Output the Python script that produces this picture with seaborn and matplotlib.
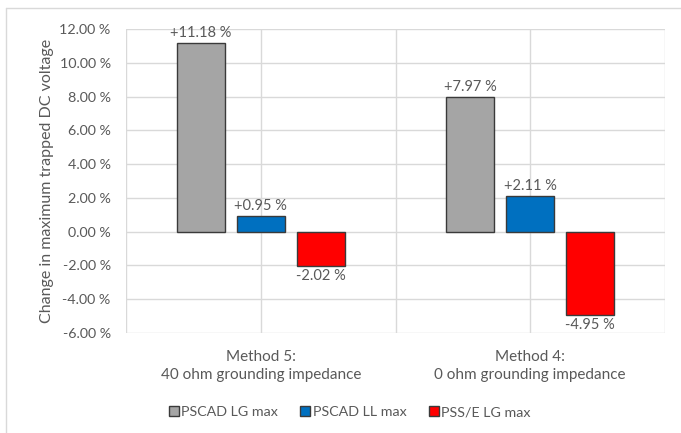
import matplotlib
matplotlib.use("Agg")
import matplotlib.pyplot as plt
from matplotlib.lines import Line2D
import seaborn as sns
import pandas as pd

# Chart data
methods = ["Method 5:\n40 ohm grounding impedance", "Method 4:\n0 ohm grounding impedance"]
series = ["PSCAD LG max", "PSCAD LL max", "PSS/E LG max"]
pscad_lg = [11.18, 7.97]
pscad_ll = [0.95, 2.11]
psse_lg = [-2.02, -4.95]
y_ticks = [-6, -4, -2, 0, 2, 4, 6, 8, 10, 12]

colors = ["#A5A5A5", "#0070C0", "#FF0000"]
edge = "#3A3A3A"
text_col = "#595959"
grid_col = "#D9D9D9"

df = pd.DataFrame({
    "method": methods * 3,
    "series": [s for s in series for _ in methods],
    "value": pscad_lg + pscad_ll + psse_lg,
})

sns.set_style("white")
plt.rcParams["font.family"] = ["Lato", "DejaVu Sans"]

fig = plt.figure(figsize=(6.81, 4.33), dpi=100)
ax = fig.add_axes([126 / 681, 1 - 333 / 433, (665 - 126) / 681, (333 - 29) / 433])

sns.barplot(data=df, x="method", y="value", hue="series", order=methods,
            hue_order=series, palette=colors, saturation=1, width=0.667, gap=0.2,
            edgecolor=edge, linewidth=1.0, legend=False, ax=ax, zorder=3)

# Value labels on each bar
for container in ax.containers:
    vals = container.datavalues
    ax.bar_label(container, labels=[f"{v:+.2f} %" for v in vals], padding=2,
                 color=text_col, fontsize=10.5)

ax.set_xlim(-0.5, 1.5)
ax.set_ylim(-6, 12)
ax.set_yticks(y_ticks)
ax.set_yticklabels([f"{t:.2f} %" for t in y_ticks])
ax.set_xticks([-0.5, 0.5, 1.5], minor=True)
ax.grid(True, axis="both", which="both", color=grid_col, linewidth=1.0, zorder=0)
ax.set_axisbelow(True)
for s in ax.spines.values():
    s.set_visible(False)
ax.tick_params(axis="both", which="both", length=0, colors=text_col)
ax.tick_params(axis="y", pad=11, labelsize=10.3)
ax.tick_params(axis="x", pad=12, labelsize=11)
for lbl in ax.get_xticklabels():
    lbl.set_linespacing(1.35)
ax.set_xlabel("")
ax.set_ylabel("Change in maximum trapped DC voltage", color=text_col, fontsize=11.5, labelpad=4)

# Legend below the plot
handles = [Line2D([], [], marker="s", linestyle="none", markersize=7.5,
                  markerfacecolor=c, markeredgecolor=edge, markeredgewidth=1.0)
           for c in colors]
fig.legend(handles, series, loc="center", bbox_to_anchor=(0.512, 1 - 412 / 433),
           ncol=3, frameon=False, fontsize=10.3, labelcolor=text_col,
           handletextpad=0.0, columnspacing=1.4, handlelength=1.0)

# Chart-area border (top and left edges)
fig.add_artist(Line2D([6 / 681, 1.0], [1 - 8 / 433, 1 - 8 / 433], color=grid_col,
                      linewidth=1.0, transform=fig.transFigure))
fig.add_artist(Line2D([6 / 681, 6 / 681], [0.0, 1 - 8 / 433], color=grid_col,
                      linewidth=1.0, transform=fig.transFigure))

fig.savefig("out.png", dpi=100)
